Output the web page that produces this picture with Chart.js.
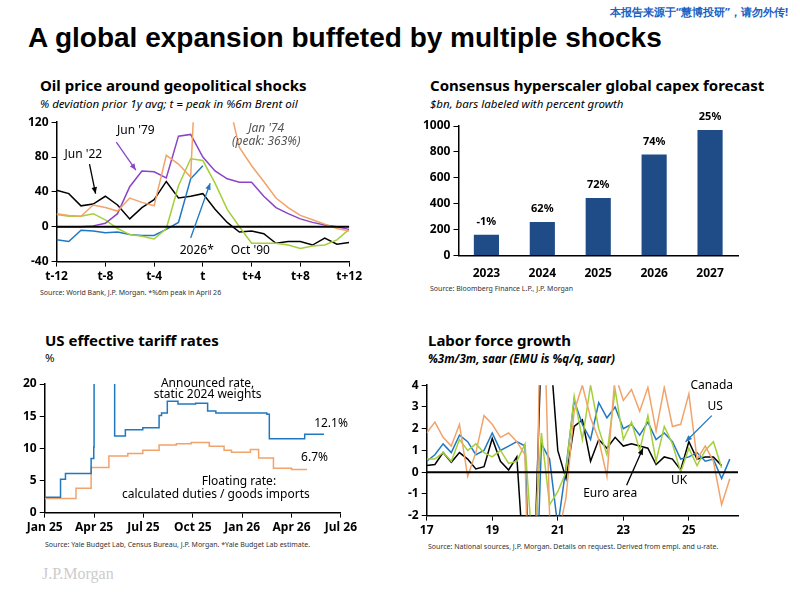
<!DOCTYPE html>
<html><head><meta charset="utf-8">
<script src="https://cdn.jsdelivr.net/npm/chart.js@4.4.1/dist/chart.umd.min.js"></script>
<style>
body{margin:0;width:800px;height:600px;background:#fff;font-family:"Noto Sans",sans-serif;position:relative;overflow:hidden}
.t{position:absolute;white-space:nowrap;color:#000}
.h{font-weight:bold;font-size:15px}
.s{font-style:italic;font-size:11.5px}
.src{font-size:7px;color:#333}
canvas{position:absolute}
</style></head><body>
<div class="t" style="right:12px;top:4px;font-size:11px;font-weight:bold;color:#2060c0">本报告来源于“慧博投研”，请勿外传!</div>
<div class="t" style="left:28px;top:22px;font-size:28px;font-weight:bold;font-family:'Liberation Sans',Arial">A global expansion buffeted by multiple shocks</div>

<div class="t h" style="left:40px;top:75px">Oil price around geopolitical shocks</div>
<div class="t s" style="left:40px;top:96px">% deviation prior 1y avg; t = peak in %6m Brent oil</div>
<div class="t src" style="left:40px;top:288px">Source: World Bank, J.P. Morgan. *%6m peak in April 26</div>
<div style="position:absolute;left:25px;top:112px;width:340px;height:175px"><canvas id="oil"></canvas></div>

<div class="t h" style="left:430px;top:75px">Consensus hyperscaler global capex forecast</div>
<div class="t s" style="left:430px;top:96px">$bn, bars labeled with percent growth</div>
<div class="t src" style="left:430px;top:284px">Source: Bloomberg Finance L.P., J.P. Morgan</div>
<div style="position:absolute;left:420px;top:112px;width:330px;height:172px"><canvas id="capex"></canvas></div>

<div class="t h" style="left:45px;top:330px">US effective tariff rates</div>
<div class="t s" style="left:45px;top:350px;font-style:normal">%</div>
<div class="t src" style="left:45px;top:540px">Source: Yale Budget Lab, Census Bureau, J.P. Morgan. *Yale Budget Lab estimate.</div>
<div style="position:absolute;left:20px;top:370px;width:340px;height:168px"><canvas id="tariff"></canvas></div>

<div class="t h" style="left:428px;top:330px">Labor force growth</div>
<div class="t s" style="left:428px;top:351px;font-weight:bold">%3m/3m, saar (EMU is %q/q, saar)</div>
<div class="t src" style="left:428px;top:542px">Source: National sources, J.P. Morgan. Details on request. Derived from empl. and u-rate.</div>
<div style="position:absolute;left:405px;top:375px;width:345px;height:166px"><canvas id="labor"></canvas></div>

<div class="t" style="left:42px;top:565px;font-size:16px;color:#ccc;font-family:'Liberation Serif'">J.P.Morgan</div>

<script>
// ---- oil ----
const oilMonths = [-12,-11,-10,-9,-8,-7,-6,-5,-4,-3,-2,-1,0,1,2,3,4,5,6,7,8,9,10,11,12];
const jun22 = [42,38,24,26,35,25,9,22,31,52,33,35,38,20,5,-6,-5,-8,-19,-17,-17,-21,-13,-20,-18];
const jun79 = [0,0,0,1,4,15,46,64,63,56,104,106,80,64,55,51,51,35,22,15,9,5,2,0,-3];
const jan74 = [15,13,12,25,22,18,33,28,24,82,72,57,363,260,150,91,70,52,33,22,13,8,3,-2,-5];
const oct90 = [14,12,12,15,8,-2,-9,-11,-14,-2,47,78,76,50,20,0,-19,-19,-19,-21,-25,-22,-21,-15,-3];
const y2026 = [-15,-17,-4,-5,-7,-6,-9,-10,-10,-3,5,55,70];

// ---- capex ----
const capexYears = ['2023','2024','2025','2026','2027'];
const capexBn = [160,260,445,780,970];
const capexGrowth = ['-1%','62%','72%','74%','25%'];

// ---- tariffs (x = months since Jan 25) ----
const annX = [0,0.96,1.26,2.82,2.98,3.0,4.25,4.9,5.96,6.95,7.1,7.45,8.1,9.17,9.9,10.4,13.5,13.65,15.8,16.97];
const annY = [2.4,5.2,6.1,8.4,10.2,27,11.9,12.9,13.2,15.1,15.5,17.3,16.9,17.0,15.8,15.5,15.3,11.5,12.2,12.2];
const floatX = [0,1.9,2.82,3.9,5.05,5.96,6.95,8.0,8.9,10.0,10.9,11.35,12.5,13.0,13.9,15.0,15.94];
const floatY = [2.2,3.8,7.0,8.8,9.2,9.7,10.5,10.7,10.9,10.3,9.7,9.4,9.8,8.5,6.9,6.7,6.7];
const tariffTicks = ['Jan 25','Apr 25','Jul 25','Oct 25','Jan 26','Apr 26','Jul 26'];

// ---- labor force (quarterly, x = year - 2000) ----
const laborX = [17,17.25,17.5,17.75,18,18.25,18.5,18.75,19,19.25,19.5,19.75,20,20.25,20.5,20.75,21,21.25,21.5,21.75,22,22.25,22.5,22.75,23,23.25,23.5,23.75,24,24.25,24.5,24.75,25,25.25,25.5,25.75,26,26.25];
const laborTicks = [17,19,21,23,25];
const euro = [0.3,0.35,0.9,0.45,0.9,0.6,0.15,0.25,1.55,0.5,0.1,0.7,-5,-6,6,6,1.0,-0.3,2.1,2.4,0.5,1.5,1.1,1.6,1.2,1.3,1.2,1.1,0.35,0.7,0.6,0.1,1.4,0.6,0.7,0.7,0.3];
const us = [0.5,0.8,1.3,0.9,1.7,1.4,0.8,1.0,1.8,1.0,1.2,1.4,1.2,-10,1.3,0.6,-2.5,0.2,3.3,2.2,1.5,3.2,2.5,3.0,2.0,2.2,1.7,2.3,1.5,1.8,1.4,0.6,0.7,0.9,0.5,0.6,-0.3,0.6];
const uk = [0.6,0.6,0.9,0.5,1.5,1.0,1.3,0.9,0.7,1.0,0.4,0.5,1.3,-4,1.8,-1.5,-0.9,0.0,3.5,1.5,4.0,2.0,0.8,3.8,1.5,2.3,1.0,2.6,0.5,2.1,1.3,0.0,1.1,0.3,1.0,1.4,0.2];
const canada = [1.8,2.3,1.6,1.2,2.2,-0.2,0.9,2.6,2.2,1.6,1.8,1.4,0.8,-15,12,-2,-3,-1.2,2.8,4.0,2.5,1.5,-0.2,4.5,3.3,3.8,2.8,3.9,1.9,3.9,2.1,2.2,3.6,0.6,1.2,0.5,-1.5,-0.3];

const BLUE = '#1f78c1', ORANGE = '#f2a36a', GREEN = '#a4cf3a', PURPLE = '#8a44c8', NAVY = '#1f4b86';
const FONT = {family: 'Noto Sans', size: 12, weight: 'bold'};

function xy(xs, ys) { return ys.map((v, i) => ({x: xs[i], y: v})); }

// text + arrow notes in data coordinates
const notes = {
  id: 'notes',
  afterDatasetsDraw(chart, args, opts) {
    const c = chart.ctx, sx = chart.scales.x, sy = chart.scales.y;
    if (opts.zero) {
      c.save(); c.strokeStyle = '#000'; c.lineWidth = 2;
      const y0 = sy.getPixelForValue(0);
      c.beginPath(); c.moveTo(chart.chartArea.left, y0); c.lineTo(chart.chartArea.right, y0); c.stroke(); c.restore();
    }
    (opts.arrows || []).forEach(a => {
      const x1 = sx.getPixelForValue(a[0]), y1 = sy.getPixelForValue(a[1]);
      const x2 = sx.getPixelForValue(a[2]), y2 = sy.getPixelForValue(a[3]);
      c.save(); c.strokeStyle = a[4]; c.fillStyle = a[4]; c.lineWidth = 1.3;
      c.beginPath(); c.moveTo(x1, y1); c.lineTo(x2, y2); c.stroke();
      const ang = Math.atan2(y2 - y1, x2 - x1);
      c.beginPath(); c.moveTo(x2, y2);
      c.lineTo(x2 - 7 * Math.cos(ang - 0.4), y2 - 7 * Math.sin(ang - 0.4));
      c.lineTo(x2 - 7 * Math.cos(ang + 0.4), y2 - 7 * Math.sin(ang + 0.4));
      c.fill(); c.restore();
    });
    (opts.texts || []).forEach(t => {
      c.save(); c.font = (t[4] || '') + ' 12px "Noto Sans"'; c.fillStyle = t[3] || '#000';
      c.textAlign = 'center'; c.textBaseline = 'middle';
      c.fillText(t[2], sx.getPixelForValue(t[0]), sy.getPixelForValue(t[1])); c.restore();
    });
  }
};

function axis(extra) {
  return Object.assign({
    grid: {drawOnChartArea: false, drawTicks: true, tickLength: 5, color: '#000'},
    border: {color: '#000', width: 1.5},
    ticks: {color: '#000', font: FONT, padding: 3}
  }, extra);
}

function lineChart(id, datasets, x, y, notesOpts, top) {
  return new Chart(document.getElementById(id), {
    type: 'line',
    data: {datasets: datasets},
    options: {
      responsive: true, maintainAspectRatio: false, animation: false,
      layout: {padding: {right: 12, top: top || 6}},
      elements: {point: {radius: 0}, line: {borderWidth: 1.5, tension: 0}},
      plugins: {legend: {display: false}, tooltip: {enabled: false}, notes: notesOpts},
      scales: {x: axis(x), y: axis(y)}
    },
    plugins: [notes]
  });
}

const ds = (data, color, extra) => Object.assign({data: data, borderColor: color}, extra);

lineChart('oil', [
  ds(xy(oilMonths, jan74), ORANGE),
  ds(xy(oilMonths, jun79), PURPLE),
  ds(xy(oilMonths, oct90), GREEN),
  ds(xy(oilMonths, y2026), BLUE),
  ds(xy(oilMonths, jun22), '#000')
], {type: 'linear', min: -12, max: 12, ticks: {color: '#000', font: FONT, stepSize: 4, callback: v => v === 0 ? 't' : (v < 0 ? 't' + v : 't+' + v)}},
   {min: -40, max: 120, ticks: {color: '#000', font: FONT, stepSize: 40}},
   {zero: true,
    texts: [[-5.5, 110, "Jun '79"], [-9.8, 83, "Jun '22"], [5.2, 113, "Jan '74", '#555', 'italic'], [5.2, 98, '(peak: 363%)', '#555', 'italic'], [-0.5, -27, '2026*'], [3.9, -27, "Oct '90"]],
    arrows: [[-7.1, 97, -5.5, 65, PURPLE], [-9.3, 72, -8.8, 38, '#000'], [-1, -13, 0.6, 50, BLUE]]});

new Chart(document.getElementById('capex'), {
  type: 'bar',
  data: {labels: capexYears, datasets: [{data: capexBn, backgroundColor: NAVY, barPercentage: 0.45, categoryPercentage: 1}]},
  options: {
    responsive: true, maintainAspectRatio: false, animation: false,
    layout: {padding: {right: 12, top: 14}},
    plugins: {legend: {display: false}, tooltip: {enabled: false}},
    scales: {
      x: axis({grid: {display: false}, ticks: {color: '#000', font: FONT}}),
      y: axis({min: 0, max: 1000, ticks: {color: '#000', font: FONT, stepSize: 200, callback: v => String(v)}})
    }
  },
  plugins: [{
    id: 'barLabels',
    afterDatasetsDraw(chart) {
      const c = chart.ctx;
      chart.getDatasetMeta(0).data.forEach((bar, i) => {
        c.save(); c.font = 'bold 11px "Noto Sans"'; c.fillStyle = '#000'; c.textAlign = 'center';
        c.fillText(capexGrowth[i], bar.x, bar.y - 10); c.restore();
      });
    }
  }]
});

lineChart('tariff', [
  ds(xy(annX, annY), BLUE, {stepped: true}),
  ds(xy(floatX, floatY), ORANGE, {stepped: true})
], {type: 'linear', min: 0, max: 18, ticks: {color: '#000', font: FONT, stepSize: 3, callback: v => tariffTicks[v / 3]}},
   {min: 0, max: 20, ticks: {color: '#000', font: FONT, stepSize: 5}},
   {texts: [[9.9, 20.0, 'Announced rate,'], [9.9, 18.3, 'static 2024 weights'], [17.4, 13.9, '12.1%'], [16.4, 8.5, '6.7%'], [11.8, 4.8, 'Floating rate:'], [10.4, 2.8, 'calculated duties / goods imports']]}, 14);

lineChart('labor', [
  ds(xy(laborX, canada), ORANGE),
  ds(xy(laborX, uk), GREEN),
  ds(xy(laborX, us), BLUE),
  ds(xy(laborX, euro), '#000')
], {type: 'linear', min: 17, max: 26.5, afterBuildTicks: ax => { ax.ticks = laborTicks.map(v => ({value: v})); }, ticks: {color: '#000', font: FONT}},
   {min: -2, max: 4, ticks: {color: '#000', font: FONT, stepSize: 1}},
   {zero: true,
    texts: [[25.7, 4.0, 'Canada'], [25.8, 3.0, 'US'], [24.7, -0.4, 'UK'], [22.6, -1.0, 'Euro area']],
    arrows: [[25.7, 2.6, 24.9, 1.4, BLUE], [23.1, -0.6, 23.6, 1.1, '#000']]});
</script>
</body></html>
